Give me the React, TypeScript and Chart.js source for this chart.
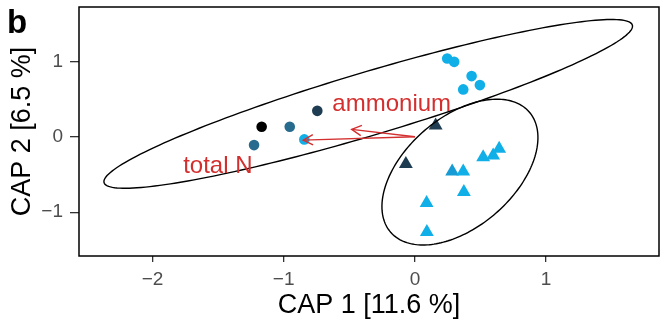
import { useEffect, useRef } from 'react';
import { Chart, registerables } from 'chart.js';

Chart.register(...registerables);

// ---- data ----
const xTicks = [-2, -1, 0, 1];
const yTicks = [-1, 0, 1];
const xRange = [-2.56, 1.86];
const yRange = [-1.58, 1.72];

const circleX = [-1.168, -0.744, -0.954, -1.226, -0.843, 0.246, 0.299, 0.432, 0.495, 0.368];
const circleY = [0.132, 0.344, 0.132, -0.11, -0.035, 1.038, 0.993, 0.804, 0.685, 0.628];
const circleGroup = [0, 1, 2, 2, 4, 4, 4, 4, 4, 4];

const triX = [0.158, -0.069, 0.284, 0.368, 0.52, 0.596, 0.642, 0.373, 0.089, 0.091];
const triY = [0.15, -0.362, -0.459, -0.459, -0.27, -0.247, -0.159, -0.733, -0.879, -1.263];
const triGroup = [1, 1, 3, 4, 4, 4, 4, 4, 4, 4];

const groupColors = ['#000000', '#1f3d52', '#276b8e', '#169bd4', '#10afe7'];

// ellipses: centre and two conjugate semi-axes (data units)
const ellipseCX = [-0.356, 0.343];
const ellipseCY = [0.436, -0.468];
const ellipseUX = [2.013, 0.528];
const ellipseUY = [1.044, 0.797];
const ellipseVX = [0.069, 0.273];
const ellipseVY = [-0.401, -0.546];

// environmental vectors
const arrowLabels = ['ammonium', 'total N'];
const arrowX = [-0.482, -0.851];
const arrowY = [0.098, -0.044];
const labelX = [-0.177, -1.502];
const labelY = [0.34, -0.477];

const FONT = 'Arial, "Liberation Sans", Helvetica, sans-serif';
const RED = '#d42f2f';

const overlay = {
  id: 'overlay',
  afterDatasetsDraw(chart: any) {
    const { ctx, chartArea, scales } = chart;
    const xs = scales.x;
    const ys = scales.y;
    const px = (v: number) => xs.getPixelForValue(v);
    const py = (v: number) => ys.getPixelForValue(v);
    ctx.save();
    // ellipses
    ctx.strokeStyle = '#000';
    ctx.lineWidth = 1.4;
    for (let e = 0; e < ellipseCX.length; e++) {
      ctx.beginPath();
      const n = 200;
      for (let i = 0; i <= n; i++) {
        const t = (i / n) * Math.PI * 2;
        const x = ellipseCX[e] + ellipseUX[e] * Math.cos(t) + ellipseVX[e] * Math.sin(t);
        const y = ellipseCY[e] + ellipseUY[e] * Math.cos(t) + ellipseVY[e] * Math.sin(t);
        if (i === 0) ctx.moveTo(px(x), py(y));
        else ctx.lineTo(px(x), py(y));
      }
      ctx.closePath();
      ctx.stroke();
    }
    // arrows
    ctx.strokeStyle = RED;
    ctx.lineWidth = 1.4;
    const ox = px(0);
    const oy = py(0);
    for (let a = 0; a < arrowX.length; a++) {
      const ex = px(arrowX[a]);
      const ey = py(arrowY[a]);
      ctx.beginPath();
      ctx.moveTo(ox, oy);
      ctx.lineTo(ex, ey);
      ctx.stroke();
      const ang = Math.atan2(ey - oy, ex - ox);
      const L = 11;
      const h = (28 * Math.PI) / 180;
      ctx.beginPath();
      ctx.moveTo(ex - L * Math.cos(ang - h), ey - L * Math.sin(ang - h));
      ctx.lineTo(ex, ey);
      ctx.lineTo(ex - L * Math.cos(ang + h), ey - L * Math.sin(ang + h));
      ctx.stroke();
    }
    // labels
    ctx.fillStyle = RED;
    ctx.font = `24px ${FONT}`;
    ctx.textAlign = 'center';
    ctx.textBaseline = 'alphabetic';
    for (let a = 0; a < arrowLabels.length; a++) {
      ctx.fillText(arrowLabels[a], px(labelX[a]), py(labelY[a]));
    }
    // panel border
    ctx.strokeStyle = '#000';
    ctx.lineWidth = 1.5;
    ctx.strokeRect(chartArea.left, chartArea.top, chartArea.right - chartArea.left, chartArea.bottom - chartArea.top);
    // panel tag
    ctx.fillStyle = '#000';
    ctx.font = `bold 33px ${FONT}`;
    ctx.textAlign = 'left';
    ctx.fillText('b', 7, 33);
    ctx.restore();
  },
};

export default function App() {
  const ref = useRef<HTMLCanvasElement>(null);
  useEffect(() => {
    document.body.style.margin = '0';
    const canvas = ref.current!;
    const chart = new Chart(canvas, {
      type: 'scatter',
      data: {
        datasets: [
          {
            label: 'circles',
            data: circleX.map((x, i) => ({ x, y: circleY[i] })),
            pointStyle: 'circle',
            pointRadius: 5.3,
            pointBorderWidth: 0,
            backgroundColor: circleGroup.map((g) => groupColors[g]),
            borderColor: circleGroup.map((g) => groupColors[g]),
          },
          {
            label: 'triangles',
            data: triX.map((x, i) => ({ x, y: triY[i] })),
            pointStyle: 'triangle',
            pointRadius: 8,
            pointBorderWidth: 0,
            backgroundColor: triGroup.map((g) => groupColors[g]),
            borderColor: triGroup.map((g) => groupColors[g]),
          },
        ],
      },
      options: {
        animation: false,
        responsive: false,
        devicePixelRatio: 1,
        layout: { autoPadding: false, padding: { top: 7, right: 2, left: 0, bottom: 0 } },
        plugins: { legend: { display: false }, tooltip: { enabled: false } },
        scales: {
          x: {
            type: 'linear',
            min: xRange[0],
            max: xRange[1],
            afterBuildTicks: (s: any) => {
              s.ticks = xTicks.map((v) => ({ value: v }));
            },
            afterFit: (s: any) => {
              s.height = 68;
              s.paddingLeft = 0;
              s.paddingRight = 0;
            },
            border: { display: false },
            grid: { drawOnChartArea: false, drawTicks: true, tickLength: 6, color: '#333', lineWidth: 1.3 },
            ticks: {
              padding: 6,
              color: '#4d4d4d',
              font: { size: 19, family: FONT },
              callback: (v: any) => String(v).replace('-', '\u2212'),
            },
            title: {
              display: true,
              text: 'CAP 1 [11.6 %]',
              color: '#000',
              font: { size: 27, family: FONT },
              padding: { top: 0, bottom: 2 },
            },
          },
          y: {
            type: 'linear',
            min: yRange[0],
            max: yRange[1],
            afterBuildTicks: (s: any) => {
              s.ticks = yTicks.map((v) => ({ value: v }));
            },
            afterFit: (s: any) => {
              s.width = 79;
              s.paddingTop = 0;
              s.paddingBottom = 0;
            },
            border: { display: false },
            grid: { drawOnChartArea: false, drawTicks: true, tickLength: 9, color: '#333', lineWidth: 1.3 },
            ticks: {
              padding: 7,
              color: '#4d4d4d',
              font: { size: 19, family: FONT },
              callback: (v: any) => String(v).replace('-', '\u2212'),
            },
            title: {
              display: true,
              text: 'CAP 2 [6.5 %]',
              color: '#000',
              font: { size: 27, family: FONT },
              padding: { top: 6, bottom: 0 },
            },
          },
        },
      },
      plugins: [overlay],
    });
    return () => chart.destroy();
  }, []);
  return <canvas ref={ref} width={661} height={324} style={{ display: 'block' }} />;
}
